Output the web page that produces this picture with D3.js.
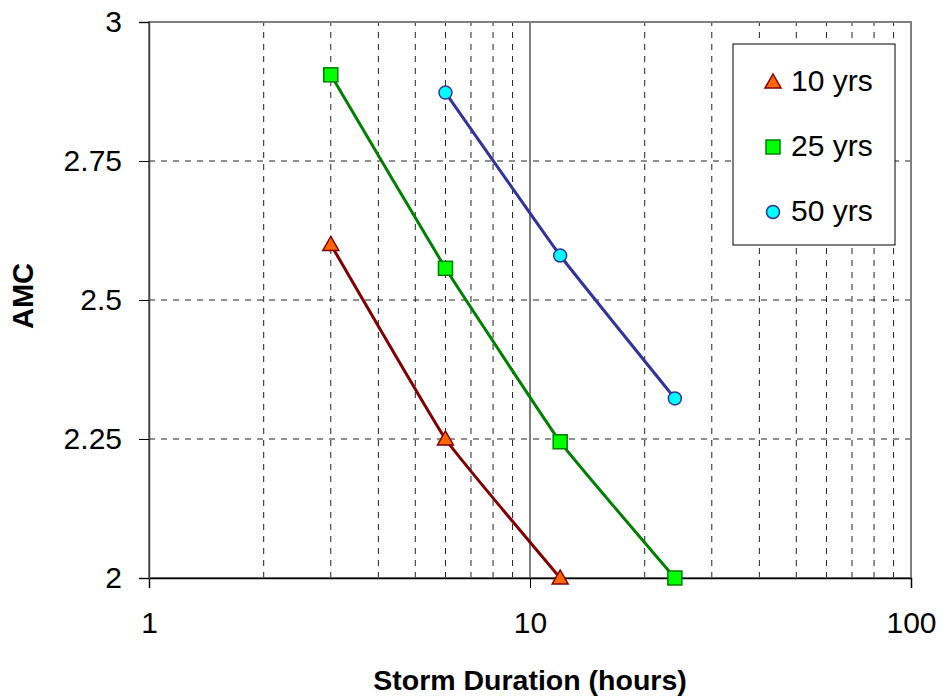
<!DOCTYPE html>
<html>
<head>
<meta charset="utf-8">
<script src="https://cdn.jsdelivr.net/npm/d3@7"></script>
<style>
  body { margin: 0; background: #fff; }
  svg { display: block; font-family: "Liberation Sans", Arial, sans-serif; }
</style>
</head>
<body>
<div id="container"></div>
<script>
const width = 943;
const height = 696;
const margin = {top: 22, right: 32, bottom: 118, left: 149};

// data
const durations10 = [3, 6, 12];
const amc10 = [2.60, 2.25, 2.00];
const durations25 = [3, 6, 12, 24];
const amc25 = [2.905, 2.557, 2.245, 2.00];
const durations50 = [6, 12, 24];
const amc50 = [2.873, 2.58, 2.323];

const seriesNames = ["10 yrs", "25 yrs", "50 yrs"];
const xTicks = [1, 10, 100];
const xMinor = [2, 3, 4, 5, 6, 7, 8, 9, 20, 30, 40, 50, 60, 70, 80, 90];
const yTicks = [2, 2.25, 2.5, 2.75, 3];

const series = [
  {name: seriesNames[0], x: durations10, y: amc10, line: "#800000", fill: "#ff6600", stroke: "#800000", shape: "tri"},
  {name: seriesNames[1], x: durations25, y: amc25, line: "#008000", fill: "#00ff00", stroke: "#008000", shape: "sq"},
  {name: seriesNames[2], x: durations50, y: amc50, line: "#333399", fill: "#00ffff", stroke: "#333399", shape: "circ"}
];

const svg = d3.select("#container").append("svg")
    .attr("width", width)
    .attr("height", height);

const iw = width - margin.left - margin.right;
const ih = height - margin.top - margin.bottom;

const xScale = d3.scaleLog().domain([1, 100]).range([margin.left, margin.left + iw]);
const yScale = d3.scaleLinear().domain([2, 3]).range([margin.top + ih, margin.top]);

// minor vertical grid (dashed)
svg.append("g").selectAll("line").data(xMinor).enter().append("line")
    .attr("x1", d => xScale(d)).attr("x2", d => xScale(d))
    .attr("y1", yScale(2)).attr("y2", yScale(3))
    .attr("stroke", "#222").attr("stroke-width", 1)
    .attr("stroke-dasharray", "6,6");

// horizontal grid (dashed)
svg.append("g").selectAll("line").data(yTicks.slice(1, -1)).enter().append("line")
    .attr("x1", xScale(1)).attr("x2", xScale(100))
    .attr("y1", d => yScale(d)).attr("y2", d => yScale(d))
    .attr("stroke", "#222").attr("stroke-width", 1)
    .attr("stroke-dasharray", "6,6");

// major vertical grid at 10 (solid)
svg.append("line")
    .attr("x1", xScale(10)).attr("x2", xScale(10))
    .attr("y1", yScale(3)).attr("y2", yScale(2))
    .attr("stroke", "#000").attr("stroke-width", 1);

// plot area border
svg.append("rect")
    .attr("x", xScale(1)).attr("y", yScale(3))
    .attr("width", iw).attr("height", ih)
    .attr("fill", "none").attr("stroke", "#808080").attr("stroke-width", 2);

// axes
const xaxis = d3.axisBottom(xScale).tickValues(xTicks).tickFormat(d3.format("d"))
    .tickSize(10).tickPadding(24);
const yaxis = d3.axisLeft(yScale).tickValues(yTicks).tickFormat(d => String(d))
    .tickSize(10).tickPadding(17);

const gx = svg.append("g")
    .attr("transform", "translate(0," + yScale(2) + ")")
    .call(xaxis);
const gy = svg.append("g")
    .attr("transform", "translate(" + xScale(1) + ",0)")
    .call(yaxis);

[gx, gy].forEach(function(g) {
    g.select(".domain").attr("stroke", "#000").attr("stroke-width", 1.5);
    g.selectAll(".tick line").attr("stroke", "#000");
    g.selectAll(".tick text").attr("fill", "#000")
        .style("font-size", "30px");
});
gy.select(".domain").attr("stroke", "#444");
gx.selectAll(".tick text").attr("dy", "0.71em");

// axis titles
svg.append("text")
    .attr("x", xScale(10)).attr("y", 690)
    .attr("text-anchor", "middle")
    .style("font-size", "28.5px").style("font-weight", "bold")
    .text("Storm Duration (hours)");

svg.append("text")
    .attr("transform", "translate(33," + 296 + ") rotate(-90)")
    .attr("text-anchor", "middle")
    .style("font-size", "29px").style("font-weight", "bold")
    .text("AMC");

// lines
const line = d3.line()
    .x(d => xScale(d[0]))
    .y(d => yScale(d[1]))
    .curve(d3.curveCardinal.tension(0.7));

function drawMarker(g, shape, cx, cy, fill, stroke) {
    if (shape === "tri") {
        g.append("path")
            .attr("d", "M" + cx + "," + (cy - 8) + "L" + (cx + 8) + "," + (cy + 6) + "L" + (cx - 8) + "," + (cy + 6) + "Z")
            .attr("fill", fill).attr("stroke", stroke).attr("stroke-width", 1.5);
    } else if (shape === "sq") {
        g.append("rect")
            .attr("x", cx - 7).attr("y", cy - 7).attr("width", 14).attr("height", 14)
            .attr("fill", fill).attr("stroke", stroke).attr("stroke-width", 1.5);
    } else {
        g.append("circle")
            .attr("cx", cx).attr("cy", cy).attr("r", 6.5)
            .attr("fill", fill).attr("stroke", stroke).attr("stroke-width", 1.5);
    }
}

series.forEach(function(s) {
    const pts = s.x.map((x, i) => [x, s.y[i]]);
    svg.append("path")
        .attr("d", line(pts))
        .attr("fill", "none")
        .attr("stroke", s.line)
        .attr("stroke-width", 3);
    const g = svg.append("g");
    pts.forEach(p => drawMarker(g, s.shape, xScale(p[0]), yScale(p[1]), s.fill, s.stroke));
});

// legend
const legend = svg.append("g");
legend.append("rect")
    .attr("x", 733).attr("y", 44)
    .attr("width", 162).attr("height", 201)
    .attr("fill", "#fff").attr("stroke", "#000").attr("stroke-width", 1);

series.forEach(function(s, i) {
    const cy = 82 + i * 65;
    drawMarker(legend, s.shape, 773, cy, s.fill, s.stroke);
    legend.append("text")
        .attr("x", 791).attr("y", cy + 9)
        .style("font-size", "30px")
        .text(s.name);
});
</script>
</body>
</html>
